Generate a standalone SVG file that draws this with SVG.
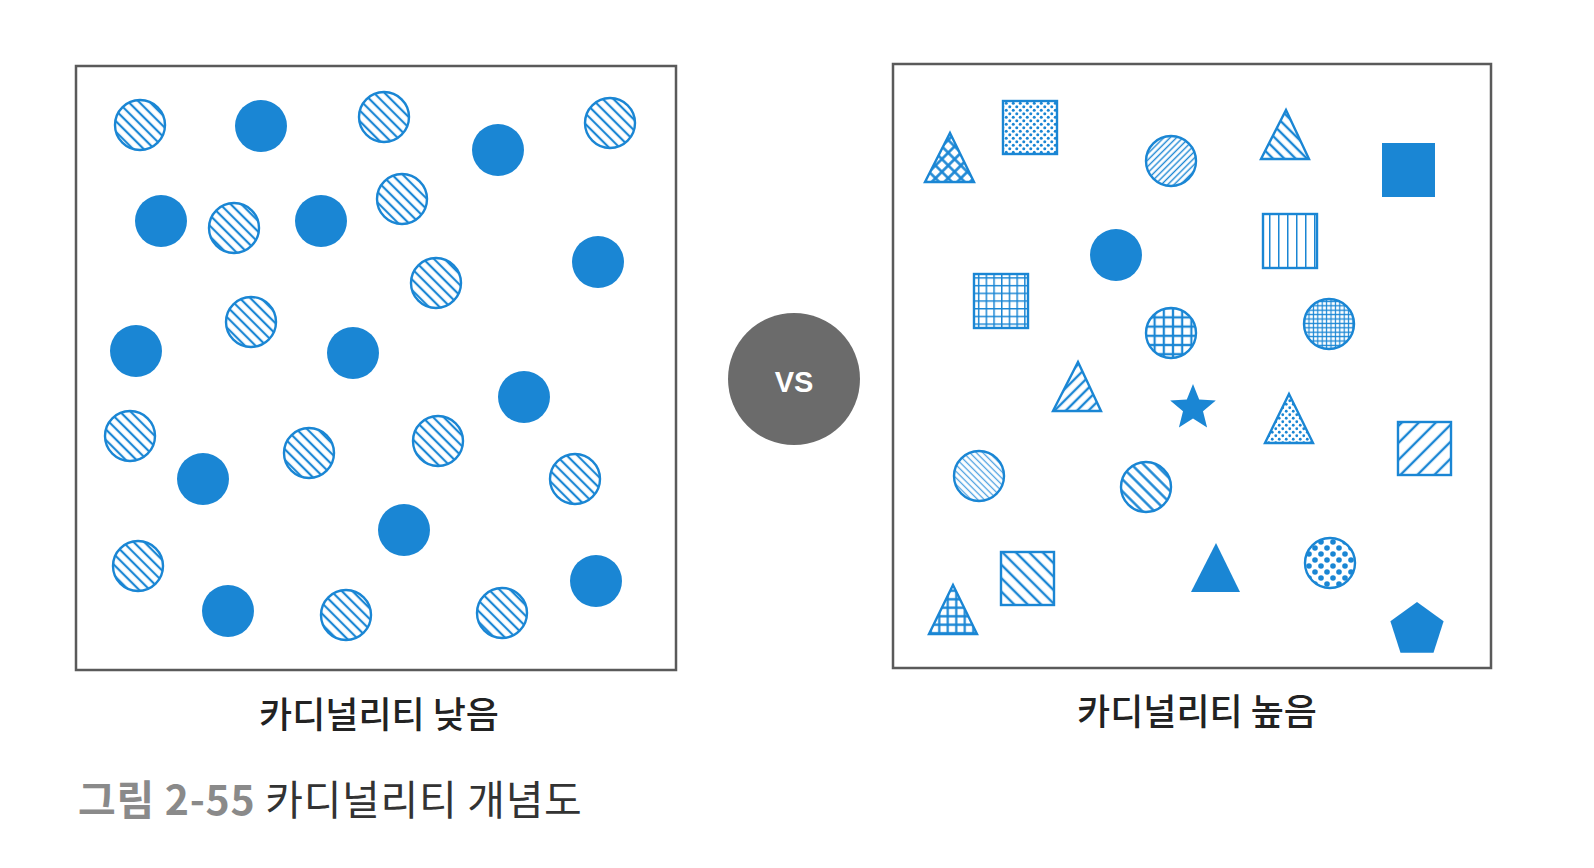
<svg xmlns="http://www.w3.org/2000/svg" width="1594" height="868" viewBox="0 0 1594 868">
<style>
.box{fill:#fff;stroke:#5a5a5a;stroke-width:2.5}
.sol{fill:#1a86d4}
.out{stroke:#1a86d4;stroke-width:2.4}
.lbl{font-family:"Noto Sans CJK KR","Noto Sans",sans-serif;font-size:36px;font-weight:500;fill:#222;text-anchor:middle}
.cap{font-family:"Noto Sans CJK KR","Noto Sans",sans-serif;font-size:41px;letter-spacing:0.7px}
</style>
<defs>
<pattern id="hL" width="7.5" height="7.5" patternUnits="userSpaceOnUse" patternTransform="rotate(-45)"><line x1="3.75" y1="0" x2="3.75" y2="7.5" stroke="#1a86d4" stroke-width="2.2"/></pattern>
<pattern id="xDiag" width="9" height="9" patternUnits="userSpaceOnUse" patternTransform="rotate(45)"><path d="M4.5 0V9M0 4.5H9" stroke="#1a86d4" stroke-width="2.6"/></pattern>
<pattern id="dotS" width="7" height="7" patternUnits="userSpaceOnUse"><circle cx="1.75" cy="1.75" r="1.5" fill="#1a86d4"/><circle cx="5.25" cy="5.25" r="1.5" fill="#1a86d4"/></pattern>
<pattern id="fineF" width="4.5" height="4.5" patternUnits="userSpaceOnUse" patternTransform="rotate(45)"><line x1="2.25" y1="0" x2="2.25" y2="4.5" stroke="#1a86d4" stroke-width="1.4"/></pattern>
<pattern id="bsl8" width="8" height="8" patternUnits="userSpaceOnUse" patternTransform="rotate(-45)"><line x1="4" y1="0" x2="4" y2="8" stroke="#1a86d4" stroke-width="2.4"/></pattern>
<pattern id="fsl8" width="8" height="8" patternUnits="userSpaceOnUse" patternTransform="rotate(45)"><line x1="4" y1="0" x2="4" y2="8" stroke="#1a86d4" stroke-width="2.4"/></pattern>
<pattern id="vert" width="9" height="9" patternUnits="userSpaceOnUse"><line x1="0.5" y1="0" x2="0.5" y2="9" stroke="#1a86d4" stroke-width="2"/></pattern>
<pattern id="gridF" width="4.4" height="4.4" patternUnits="userSpaceOnUse"><path d="M2.2 0V4.4M0 2.2H4.4" stroke="#1a86d4" stroke-width="1.2"/></pattern>
<pattern id="grid8" width="7.7" height="7.7" patternUnits="userSpaceOnUse"><path d="M0.5 0V7.7M0 0.5H7.7" stroke="#1a86d4" stroke-width="2"/></pattern>
<pattern id="grid9" width="9.2" height="9.2" patternUnits="userSpaceOnUse"><path d="M4.6 0V9.2M0 4.6H9.2" stroke="#1a86d4" stroke-width="2.2"/></pattern>
<pattern id="dotT" width="7" height="7" patternUnits="userSpaceOnUse"><circle cx="1.75" cy="1.75" r="1.4" fill="#1a86d4"/><circle cx="5.25" cy="5.25" r="1.4" fill="#1a86d4"/></pattern>
<pattern id="fsl13" width="12" height="12" patternUnits="userSpaceOnUse" patternTransform="rotate(45)"><line x1="6" y1="0" x2="6" y2="12" stroke="#1a86d4" stroke-width="2.4"/></pattern>
<pattern id="fineB" width="4.6" height="4.6" patternUnits="userSpaceOnUse" patternTransform="rotate(-45)"><line x1="2.3" y1="0" x2="2.3" y2="4.6" stroke="#4a9fe0" stroke-width="1.3"/></pattern>
<pattern id="bsl9" width="8.5" height="8.5" patternUnits="userSpaceOnUse" patternTransform="rotate(-45)"><line x1="4.25" y1="0" x2="4.25" y2="8.5" stroke="#1a86d4" stroke-width="2.4"/></pattern>
<pattern id="bsl10" width="9.5" height="9.5" patternUnits="userSpaceOnUse" patternTransform="rotate(-45)"><line x1="4.75" y1="0" x2="4.75" y2="9.5" stroke="#1a86d4" stroke-width="2.4"/></pattern>
<pattern id="gridT" width="8.5" height="8.5" patternUnits="userSpaceOnUse"><path d="M4.25 0V8.5M0 4.25H8.5" stroke="#1a86d4" stroke-width="2.2"/></pattern>
<pattern id="dotB" width="12" height="12" patternUnits="userSpaceOnUse" x="1324" y="557"><circle cx="3" cy="3" r="2.8" fill="#1a86d4"/><circle cx="9" cy="9" r="2.8" fill="#1a86d4"/></pattern>
</defs>

<g id="panel-low">
<rect class="box" x="76" y="66" width="600" height="604"/>
<g id="low-hatched" fill="url(#hL)" class="out">
<circle cx="140" cy="125" r="25"/>
<circle cx="384" cy="117" r="25"/>
<circle cx="610" cy="123" r="25"/>
<circle cx="234" cy="228" r="25"/>
<circle cx="402" cy="199" r="25"/>
<circle cx="436" cy="283" r="25"/>
<circle cx="251" cy="322" r="25"/>
<circle cx="130" cy="436" r="25"/>
<circle cx="309" cy="453" r="25"/>
<circle cx="438" cy="441" r="25"/>
<circle cx="575" cy="479" r="25"/>
<circle cx="138" cy="566" r="25"/>
<circle cx="346" cy="615" r="25"/>
<circle cx="502" cy="613" r="25"/>
</g>
<g id="low-solid" class="sol">
<circle cx="261" cy="126" r="26"/>
<circle cx="498" cy="150" r="26"/>
<circle cx="161" cy="221" r="26"/>
<circle cx="321" cy="221" r="26"/>
<circle cx="598" cy="262" r="26"/>
<circle cx="136" cy="351" r="26"/>
<circle cx="353" cy="353" r="26"/>
<circle cx="524" cy="397" r="26"/>
<circle cx="203" cy="479" r="26"/>
<circle cx="404" cy="530" r="26"/>
<circle cx="596" cy="581" r="26"/>
<circle cx="228" cy="611" r="26"/>
</g>
</g>

<g id="vs">
<circle cx="794" cy="379" r="66" fill="#6b6b6b"/>
<text x="794" y="392" font-family="Liberation Sans, Arial, sans-serif" font-weight="bold" font-size="29" fill="#fff" text-anchor="middle">VS</text>
</g>

<g id="panel-high">
<rect class="box" x="893" y="64" width="598" height="604"/>
<g class="out">
<polygon points="950,133 974,182 925,182" fill="url(#xDiag)"/>
<rect x="1003" y="101" width="54" height="53" fill="url(#dotS)"/>
<circle cx="1171" cy="161" r="25" fill="url(#fineF)"/>
<polygon points="1286,110 1309,159 1261,159" fill="url(#bsl8)"/>
<rect x="1263" y="214" width="54" height="54" fill="url(#vert)"/>
<circle cx="1329" cy="324" r="25" fill="url(#gridF)"/>
<rect x="974" y="274" width="54" height="54" fill="url(#grid8)"/>
<circle cx="1171" cy="333" r="25" fill="url(#grid9)"/>
<polygon points="1078,362 1101,411 1053,411" fill="url(#fsl8)"/>
<polygon points="1289,394 1313,443 1265,443" fill="url(#dotT)"/>
<rect x="1398" y="422" width="53" height="53" fill="url(#fsl13)"/>
<circle cx="979" cy="476" r="25" fill="url(#fineB)"/>
<circle cx="1146" cy="487" r="25" fill="url(#bsl9)"/>
<rect x="1001" y="552" width="53" height="53" fill="url(#bsl10)"/>
<polygon points="953,585 977,634 929,634" fill="url(#gridT)"/>
<circle cx="1330" cy="563" r="25" fill="url(#dotB)"/>
</g>
<g class="sol">
<rect x="1382" y="143" width="53" height="54"/>
<circle cx="1116" cy="255" r="26"/>
<polygon points="1193,384 1199.2,399.5 1215.8,400.6 1203,411.2 1207.1,427.4 1193,418.5 1178.9,427.4 1183,411.2 1170.2,400.6 1186.8,399.5"/>
<polygon points="1216,543 1240,592 1191,592"/>
<polygon points="1417,602 1443.6,621.3 1433.5,652.7 1400.5,652.7 1390.4,621.3"/>
</g>
</g>

<g id="labels">
<text class="lbl" x="379" y="728">카디널리티 낮음</text>
<text class="lbl" x="1197" y="725">카디널리티 높음</text>
<text class="cap" x="78" y="815"><tspan font-weight="bold" fill="#8a8a8a">그림 2-55</tspan><tspan fill="#333"> 카디널리티 개념도</tspan></text>
</g>
</svg>
